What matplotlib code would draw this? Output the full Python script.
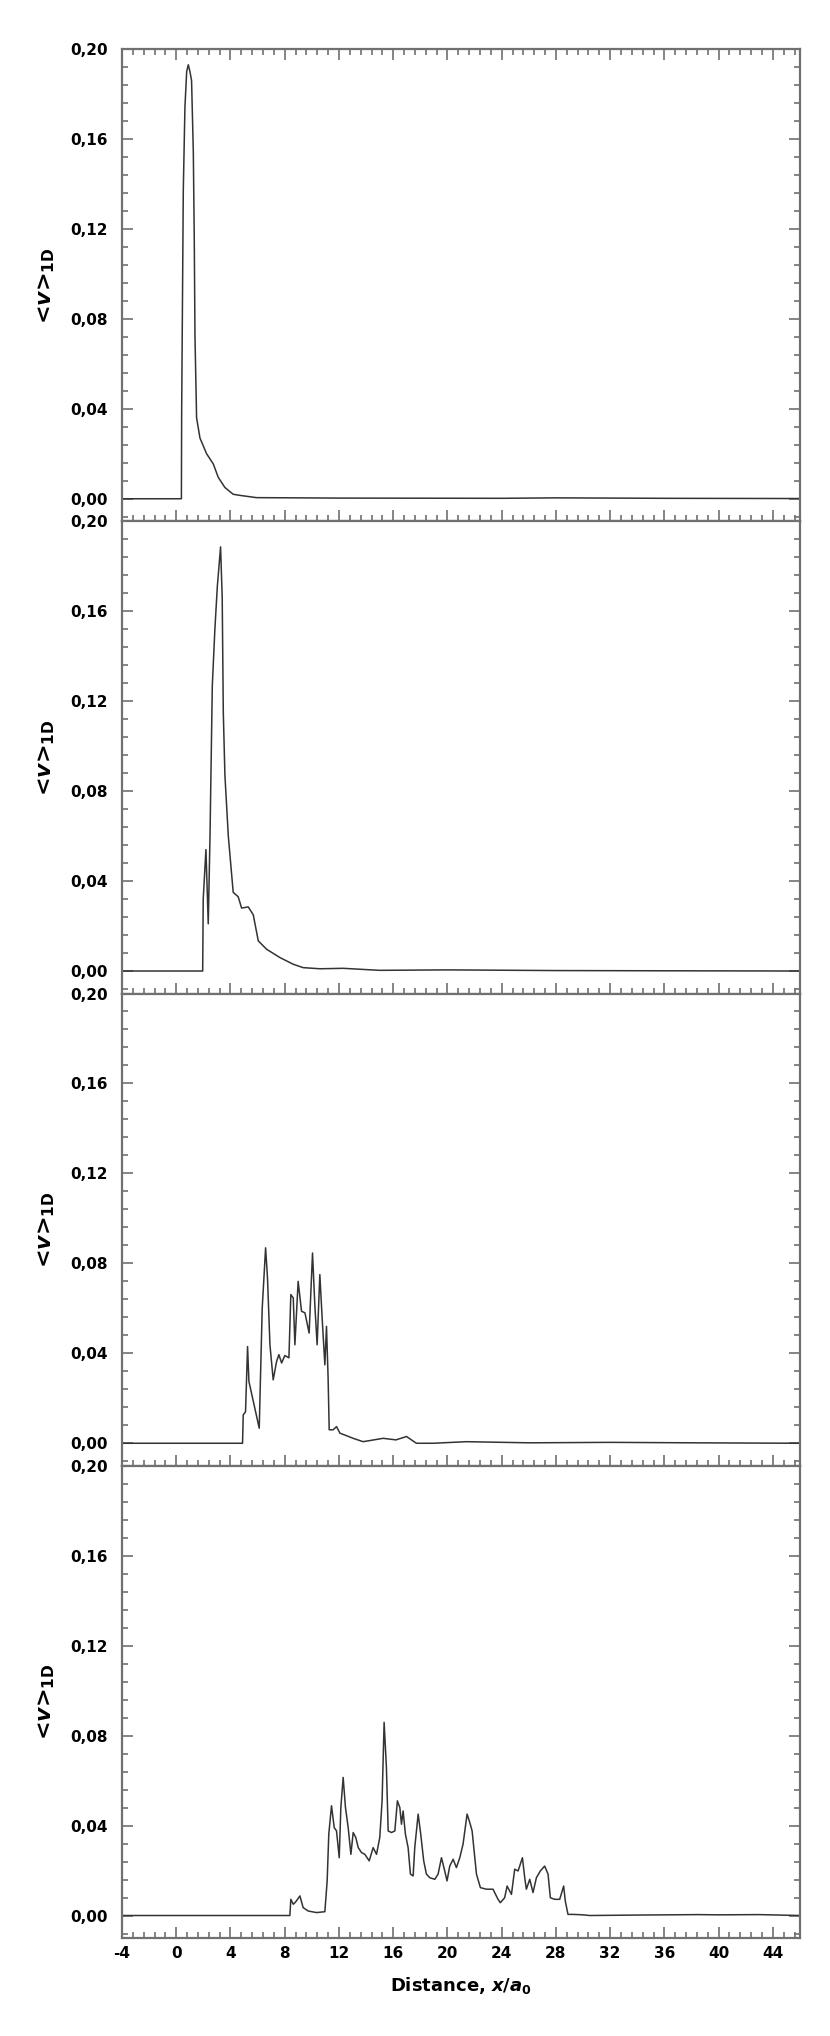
import matplotlib
matplotlib.use("Agg")
import matplotlib.pyplot as plt
from matplotlib.ticker import MultipleLocator, AutoMinorLocator, FuncFormatter

# distance x/a0 and <v>_1D
x1 = [-4, 0.38, 0.40, 0.52, 0.64, 0.77, 0.89, 1.01, 1.13, 1.26, 1.33, 1.38, 1.50, 1.75,
      2.24, 2.73, 3.10, 3.59, 4.20, 4.70, 5.92, 12.0, 24.0, 28.0, 36.0, 46.0]
v1 = [0, 0, 0.039, 0.137, 0.174, 0.190, 0.193, 0.190, 0.186, 0.154, 0.115, 0.073, 0.036, 0.027,
      0.020, 0.0155, 0.0095, 0.005, 0.002, 0.0015, 0.0005, 0.0003, 0.0002, 0.0004, 0.0002, 0.0001]

x2 = [-4, 1.95, 1.99, 2.19, 2.36, 2.49, 2.66, 2.85, 3.03, 3.27, 3.39, 3.47, 3.59, 3.84, 4.20,
      4.57, 4.82, 5.31, 5.68, 6.05, 6.66, 7.64, 8.63, 9.36, 10.6, 12.3, 15.0, 20, 28, 36, 46]
v2 = [0, 0, 0.032, 0.054, 0.021, 0.060, 0.127, 0.152, 0.171, 0.1886, 0.166, 0.115, 0.087, 0.060, 0.035,
      0.033, 0.028, 0.0285, 0.025, 0.0134, 0.0097, 0.006, 0.003, 0.0015, 0.001, 0.0012, 0.0003, 0.0005,
      0.0002, 0.0001, 0]

x3 = [-4, 4.89, 4.94, 5.11, 5.26, 5.36, 6.12, 6.34, 6.59, 6.73, 6.91, 7.15, 7.40, 7.57, 7.77,
      8.01, 8.31, 8.45, 8.63, 8.75, 8.99, 9.24, 9.49, 9.80, 10.05, 10.22, 10.39, 10.59, 10.76,
      10.96, 11.08, 11.20, 11.28, 11.57, 11.82, 12.07, 13.05, 13.78, 15.26, 16.2, 16.98, 17.71,
      18.94, 21.4, 26, 32, 38, 46]
v3 = [0, 0, 0.0126, 0.014, 0.043, 0.0275, 0.0067, 0.060, 0.0869, 0.0735, 0.0438, 0.0282, 0.0364,
      0.0394, 0.0357, 0.039, 0.038, 0.0661, 0.0646, 0.0438, 0.072, 0.0587, 0.058, 0.049, 0.0846,
      0.0616, 0.0438, 0.075, 0.0557, 0.0349, 0.052, 0.029, 0.006, 0.006, 0.0074, 0.0045, 0.0022,
      0.0007, 0.0022, 0.0015, 0.0030, 0.0, 0.0, 0.0007, 0.0002, 0.0004, 0.0002, 0]

x4 = [-4, 8.38, 8.45, 8.63, 8.80, 9.12, 9.36, 9.73, 10.35, 10.96, 11.13, 11.25, 11.45, 11.65,
      11.82, 12.02, 12.14, 12.31, 12.48, 12.68, 12.88, 13.05, 13.24, 13.42, 13.66, 13.91, 14.23,
      14.52, 14.77, 15.01, 15.18, 15.33, 15.50, 15.63, 15.87, 16.12, 16.31, 16.49, 16.61, 16.73,
      16.90, 17.10, 17.27, 17.47, 17.59, 17.84, 18.03, 18.25, 18.45, 18.70, 19.07, 19.31, 19.56,
      19.80, 19.97, 20.17, 20.42, 20.66, 20.91, 21.15, 21.45, 21.65, 21.82, 22.14, 22.43, 22.87,
      23.36, 23.73, 23.90, 24.22, 24.40, 24.72, 24.96, 25.21, 25.53, 25.70, 25.82, 26.07, 26.31,
      26.56, 26.85, 27.17, 27.42, 27.59, 27.91, 28.28, 28.57, 28.69, 28.89, 29.26, 30.0, 30.49,
      34, 38.5, 40, 43, 46]
v4 = [0, 0, 0.0072, 0.005, 0.006, 0.0087, 0.0035, 0.002, 0.0013, 0.0017, 0.0154, 0.0362, 0.0488,
      0.0391, 0.0376, 0.0257, 0.048, 0.0614, 0.048, 0.0391, 0.0272, 0.0369, 0.0347, 0.0302, 0.028,
      0.0272, 0.0243, 0.0302, 0.0272, 0.0347, 0.051, 0.0859, 0.0658, 0.0376, 0.0369, 0.0376, 0.051,
      0.048, 0.0406, 0.0465, 0.0362, 0.0302, 0.0184, 0.0176, 0.0302, 0.0451, 0.0362, 0.0243, 0.0184,
      0.0168, 0.0161, 0.0184, 0.0257, 0.0198, 0.0154, 0.022, 0.025, 0.0213, 0.0257, 0.0317, 0.0451,
      0.0413, 0.0376, 0.0184, 0.0124, 0.0117, 0.0117, 0.0072, 0.0057, 0.0079, 0.0131, 0.0094, 0.0206,
      0.0198, 0.0257, 0.0168, 0.0117, 0.0161, 0.0102, 0.0168, 0.0198, 0.022, 0.0184, 0.0079, 0.0072,
      0.0072, 0.0131, 0.0065, 0.0005, 0.0005, 0.0003, 0, 0.0002, 0.0004, 0.0003, 0.0004, 0]

panels = [(x1, v1), (x2, v2), (x3, v3), (x4, v4)]
for xs, vs in panels:
    assert len(xs) == len(vs)

plt.rcParams['mathtext.fontset'] = 'custom'
plt.rcParams['mathtext.rm'] = 'DejaVu Sans:bold'
plt.rcParams['mathtext.it'] = 'DejaVu Sans:italic:bold'
plt.rcParams['mathtext.bf'] = 'DejaVu Sans:bold'

fig = plt.figure(figsize=(8.30, 20.36), dpi=100)

left, width = 122/830, 678/830
top = 1 - 49/2036
bottom = 1 - 1938/2036
h = (top - bottom) / 4
spine_col = "#707070"

for i, (xs, vs) in enumerate(panels):
    ax = fig.add_axes([left, top - (i+1)*h, width, h])
    ax.plot(xs, vs, color="#333333", lw=1.1)
    ax.set_xlim(-4, 46)
    ax.set_ylim(-0.01, 0.20)
    ax.xaxis.set_major_locator(MultipleLocator(4))
    ax.xaxis.set_minor_locator(AutoMinorLocator(5))
    ax.yaxis.set_major_locator(MultipleLocator(0.04))
    ax.yaxis.set_minor_locator(AutoMinorLocator(5))
    ax.yaxis.set_major_formatter(FuncFormatter(lambda v, p: f"{v:.2f}".replace(".", ",")))
    ax.xaxis.set_major_formatter(FuncFormatter(lambda v, p: f"{int(round(v))}"))
    ax.tick_params(which="both", direction="in", right=True, top=(i == 0),
                   color=spine_col, width=1.2, labelbottom=(i == 3))
    ax.tick_params(which="major", length=8)
    ax.tick_params(which="minor", length=4.5)
    ax.tick_params(axis="y", labelsize=11, pad=10)
    ax.tick_params(axis="x", labelsize=11, pad=6)
    for lab in ax.get_xticklabels() + ax.get_yticklabels():
        lab.set_fontweight("bold")
    for s in ax.spines.values():
        s.set_color(spine_col)
        s.set_linewidth(1.6)
    ax.set_ylabel(r"<$v$>$_{\mathrm{1D}}$", fontsize=16, fontweight="bold", labelpad=10)
    if i == 3:
        ax.set_xlabel(r"Distance, $x/a_{0}$", fontsize=13, fontweight="bold", labelpad=10)

fig.savefig("out.png", dpi=100)
